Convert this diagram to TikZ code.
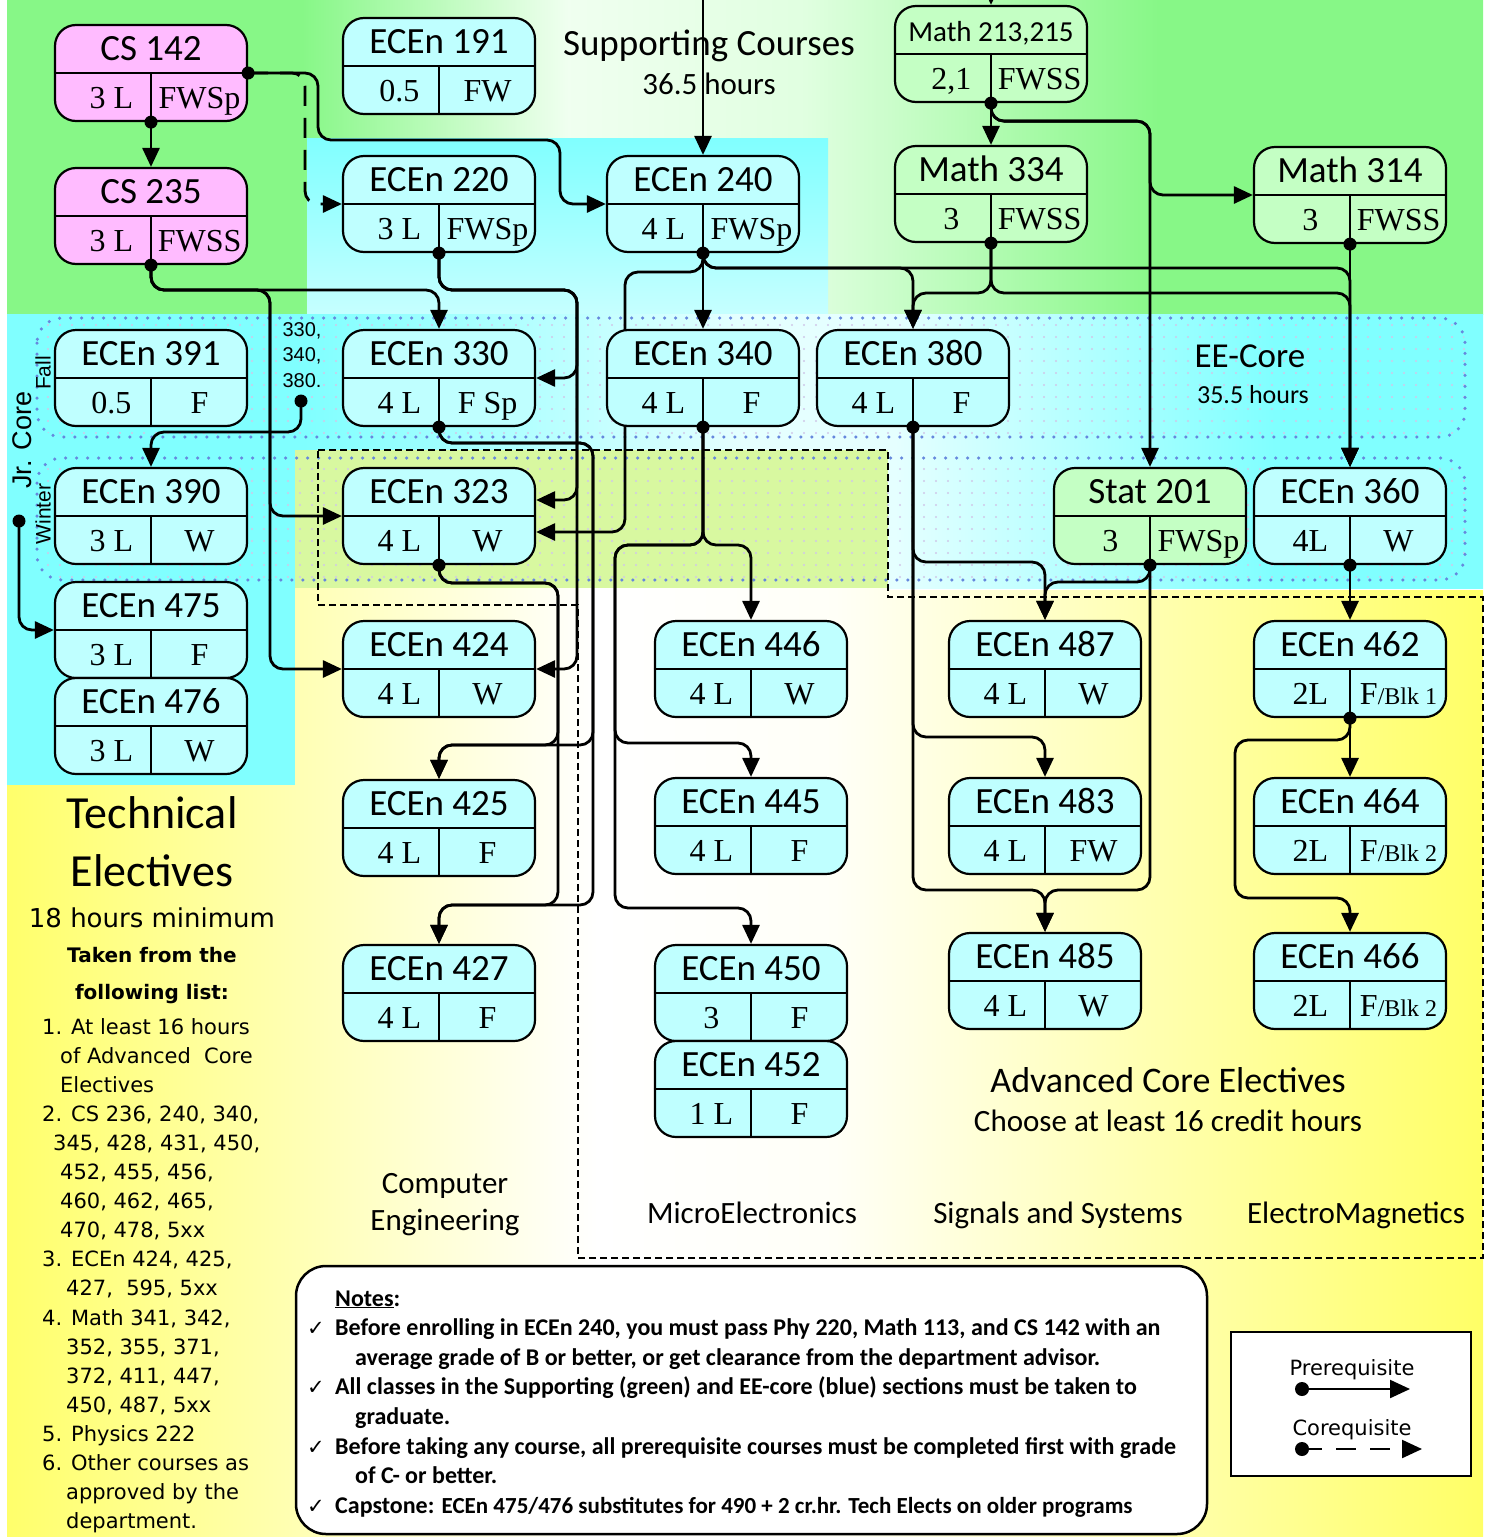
\documentclass[tikz,border=0pt]{standalone}
\usepackage{fontspec}
\setmainfont{Liberation Serif}
\newfontfamily\calfont{Carlito}
\newfontfamily\verdfont{DejaVu Sans}
\newfontfamily\arialfont{Liberation Sans}
\usetikzlibrary{calc,arrows.meta,patterns.meta}

\definecolor{boxcyan}{HTML}{BFFFFF}
\definecolor{boxpink}{HTML}{FFBBFF}
\definecolor{boxgreen}{HTML}{C4FFC4}
\definecolor{bgcyan}{HTML}{80FFFF}
\definecolor{bgmix}{HTML}{D8F8A0}
\definecolor{dotblue}{HTML}{6688DD}
\definecolor{patdot}{HTML}{D0C8E8}

\pgfdeclarehorizontalshading{greenband}{100bp}{rgb(0bp)=(0.53,0.97,0.53); rgb(35bp)=(0.53,0.97,0.53); rgb(44bp)=(0.94,1,0.94); rgb(52bp)=(0.88,1,0.88); rgb(64bp)=(0.53,0.97,0.53); rgb(100bp)=(0.53,0.97,0.53)}
\pgfdeclarehorizontalshading{cyanband}{100bp}{rgb(0bp)=(0.5,1,1); rgb(35bp)=(0.5,1,1); rgb(50bp)=(0.9,1,1); rgb(55bp)=(0.9,1,1); rgb(68bp)=(0.5,1,1); rgb(100bp)=(0.5,1,1)}
\pgfdeclarehorizontalshading{yellowband}{100bp}{rgb(0bp)=(1,1,0.42); rgb(25bp)=(1,1,0.42); rgb(45bp)=(1,1,1); rgb(53bp)=(1,1,0.97); rgb(75bp)=(1,1,0.4); rgb(100bp)=(1,1,0.4)}

\pgfdeclarelayer{back}
\pgfdeclarelayer{wires}
\pgfsetlayers{back,wires,main}

% one course: name, centre, title, credits, semesters, fill
\newcommand\course[6]{%
  \node[coursebox, fill=#6] (#1) at (#2) {};
  \draw[divider] (#1.west) -- (#1.east) (#1.center) -- (#1.south);
  \node[ctitle] (#1-t) at ($(#1.north)!.5!(#1.center)$) {#3};
  \node[ccell] (#1-l) at ($(#1.west)!.5!(#1.south)+(9,0)$) {#4};
  \node[ccell] (#1-r) at ($(#1.east)!.5!(#1.south)$) {#5};
}
\newcommand\blk[1]{{\fontsize{24}{24}\selectfont/Blk #1}}

\begin{document}
\begin{tikzpicture}[x=1pt, y=-1pt,
  coursebox/.style={draw, line width=2.2pt, rounded corners=21pt,
    minimum width=192pt, minimum height=96pt, inner sep=0pt},
  divider/.style={line width=2pt},
  ctitle/.style={font=\calfont\fontsize{37}{40}\selectfont,
    text height=24pt, text depth=0pt, inner sep=0pt},
  ccell/.style={font=\fontsize{32}{34}\selectfont,
    text height=21pt, text depth=0pt, inner sep=0pt},
  pre/.style={line width=2.8pt, rounded corners=13pt,
    -{Triangle[length=19pt,width=17pt]}},
  co/.style={pre, dash pattern=on 20pt off 12pt},
  lbl/.style={font=\calfont\fontsize{31}{36}\selectfont, inner sep=0pt, anchor=base},
  tlist/.style={font=\verdfont\fontsize{21}{24}\selectfont, inner sep=0pt, anchor=base west},
  note/.style={font=\calfont\bfseries\fontsize{24}{28}\selectfont, inner sep=0pt, anchor=base west}]
\useasboundingbox (0,0) rectangle (1488,1537);

% courses
\course{cs142}{151,73}{CS 142}{3 L}{FWSp}{boxpink}
\course{cs235}{151,216}{CS 235}{3 L}{FWSS}{boxpink}
\course{ec191}{439,66}{ECEn 191}{0.5}{FW}{boxcyan}
\course{ec220}{439,204}{ECEn 220}{3 L}{FWSp}{boxcyan}
\course{ec240}{703,204}{ECEn 240}{4 L}{FWSp}{boxcyan}
\course{m213}{991,54}{{\fontsize{29}{30}\selectfont Math 213,215}}{2,1}{FWSS}{boxgreen}
\course{m334}{991,194}{Math 334}{3}{FWSS}{boxgreen}
\course{m314}{1350,195}{Math 314}{3}{FWSS}{boxgreen}
\course{ec391}{151,378}{ECEn 391}{0.5}{F}{boxcyan}
\course{ec330}{439,378}{ECEn 330}{4 L}{F Sp}{boxcyan}
\course{ec340}{703,378}{ECEn 340}{4 L}{F}{boxcyan}
\course{ec380}{913,378}{ECEn 380}{4 L}{F}{boxcyan}
\course{ec390}{151,516}{ECEn 390}{3 L}{W}{boxcyan}
\course{ec323}{439,516}{ECEn 323}{4 L}{W}{boxcyan}
\course{st201}{1150,516}{Stat 201}{3}{FWSp}{boxgreen}
\course{ec360}{1350,516}{ECEn 360}{4L}{W}{boxcyan}
\course{ec475}{151,630}{ECEn 475}{3 L}{F}{boxcyan}
\course{ec476}{151,726}{ECEn 476}{3 L}{W}{boxcyan}
\course{ec424}{439,669}{ECEn 424}{4 L}{W}{boxcyan}
\course{ec446}{751,669}{ECEn 446}{4 L}{W}{boxcyan}
\course{ec487}{1045,669}{ECEn 487}{4 L}{W}{boxcyan}
\course{ec462}{1350,669}{ECEn 462}{2L}{F\blk{1}}{boxcyan}
\course{ec425}{439,828}{ECEn 425}{4 L}{F}{boxcyan}
\course{ec445}{751,826}{ECEn 445}{4 L}{F}{boxcyan}
\course{ec483}{1045,826}{ECEn 483}{4 L}{FW}{boxcyan}
\course{ec464}{1350,826}{ECEn 464}{2L}{F\blk{2}}{boxcyan}
\course{ec427}{439,993}{ECEn 427}{4 L}{F}{boxcyan}
\course{ec450}{751,993}{ECEn 450}{3}{F}{boxcyan}
\course{ec452}{751,1089}{ECEn 452}{1 L}{F}{boxcyan}
\course{ec485}{1045,981}{ECEn 485}{4 L}{W}{boxcyan}
\course{ec466}{1350,981}{ECEn 466}{2L}{F\blk{2}}{boxcyan}

\coordinate (in240) at (703,-5);
\coordinate (in213) at (991,-20);
\coordinate (jrdot) at (301,401);
\coordinate (jrcore) at (19,521);

% background areas
\begin{pgfonlayer}{back}
  \shade[shading=greenband] (7,0) rectangle (1483,314);
  \shade[top color=bgcyan, bottom color=bgcyan!45!white] (307,138) rectangle (828,314);
  \shade[shading=cyanband] (7,314) rectangle (1483,588);
  \fill[bgcyan] (7,314) rectangle (295,785);
  \shade[shading=yellowband] (295,450) -- (888,450) -- (888,590) -- (1483,590)
    -- (1483,1537) -- (7,1537) -- (7,785) -- (295,785) -- cycle;
  \fill[bgmix] (295,450) rectangle (888,588);
  \foreach \ya/\yb in {318/437, 458/580}
    \draw[dotblue, line width=3.5pt, line cap=round, dash pattern=on 0pt off 11pt,
      rounded corners=25pt, pattern={Dots[distance=12pt,radius=1.1pt]},
      pattern color=patdot] (37,\ya) rectangle (1465,\yb);
  \draw[line width=1.8pt, dash pattern=on 7pt off 4pt] (318,450) -- (888,450)
    -- (888,597) -- (1483,597) -- (1483,1258) -- (578,1258) -- (578,605)
    -- (318,605) -- cycle;

  \node[lbl, font=\calfont\fontsize{37}{40}\selectfont] (supp) at (709,55) {Supporting Courses};
  \node[lbl] (supph) at (709,94) {36.5 hours};
  \node[lbl, font=\calfont\fontsize{35}{40}\selectfont] (eecore) at (1250,367) {EE-Core};
  \node[lbl, font=\calfont\fontsize{26}{30}\selectfont] (eecoreh) at (1253,403) {35.5 hours};
  \node[rotate=90, font=\arialfont\fontsize{27}{30}\selectfont, inner sep=0pt] (jr) at (22,440) {Jr. Core};
  \node[rotate=90, font=\arialfont\fontsize{21}{24}\selectfont, inner sep=0pt] (fall) at (43,373) {Fall};
  \node[rotate=90, font=\arialfont\fontsize{21}{24}\selectfont, inner sep=0pt] (winter) at (43,514) {Winter};
  \node[font=\arialfont\fontsize{20}{25.5}\selectfont, align=center, inner sep=0pt,
    anchor=north] (pre3xx) at (302,322) {330,\\340,\\380.};
  \node[lbl] (ce1) at (445,1193) {Computer};
  \node[lbl] (ce2) at (445,1230) {Engineering};
  \node[lbl] (micro) at (752,1223) {MicroElectronics};
  \node[lbl] (sigs) at (1058,1223) {Signals and Systems};
  \node[lbl] (emag) at (1356,1223) {ElectroMagnetics};
  \node[lbl, font=\calfont\fontsize{36}{40}\selectfont] (ace) at (1168,1092) {Advanced Core Electives};
  \node[lbl] (ace2) at (1168,1131) {Choose at least 16 credit hours};
  \node[lbl, font=\calfont\fontsize{46}{50}\selectfont] (tech1) at (152,828) {Technical};
  \node[lbl, font=\calfont\fontsize{46}{50}\selectfont] (tech2) at (152,886) {Electives};
  \node[lbl, font=\verdfont\fontsize{26}{30}\selectfont] (tech3) at (152,927) {18 hours minimum};
  \node[lbl, font=\verdfont\bfseries\fontsize{20}{22}\selectfont] (tech4) at (152,962) {Taken from the};
  \node[lbl, font=\verdfont\bfseries\fontsize{20}{22}\selectfont] (tech5) at (152,999) {following list:};
  \foreach \dx/\txt [count=\i from 0] in {0/{1. At least 16 hours}, 18/{of Advanced\ \ Core},
      18/{Electives}, 0/{2. CS 236, 240, 340,}, 11/{345, 428, 431, 450,},
      18/{452, 455, 456,}, 18/{460, 462, 465,}, 18/{470, 478, 5xx},
      0/{3. ECEn 424, 425,}, 24/{427,\ \ 595, 5xx}, 0/{4. Math 341, 342,},
      24/{352, 355, 371,}, 24/{372, 411, 447,}, 24/{450, 487, 5xx},
      0/{5. Physics 222}, 0/{6. Other courses as}, 24/{approved by the},
      24/{department.}}
    \node[tlist] (te\i) at (42+\dx,1034+29.1*\i) {\txt};
\end{pgfonlayer}

% prerequisite lines
\begin{pgfonlayer}{wires}
  \draw[pre] (cs142.south) -- (cs235.north);
  \draw[pre] (cs142.east) -| (318,140) -| (560,204) -- (ec240.west);
  \draw[co] (cs142.east) -| (305,204) -- (ec220.west);
  \draw[pre] (in240) -- (ec240.north);
  \draw[pre] (in213) -- (m213.north);
  \draw[pre] (m213.south) -- (m334.north);
  \draw[pre] (m213.south) -- ++(0,18) -| (1150,195) -- (m314.west);
  \draw[pre] (m213.south) -- ++(0,18) -| (st201.north);
  \draw[pre] (ec220.south) |- (577,290) |- (ec330.east);
  \draw[pre] (ec220.south) |- (577,290) |- ([yshift=16pt]ec323.east);
  \draw[pre] (ec220.south) |- (577,290) |- (ec424.east);
  \draw[pre] (cs235.south) |- (439,290) -- (ec330.north);
  \draw[pre] (cs235.south) |- (270,290) |- (ec323.west);
  \draw[pre] (cs235.south) |- (270,290) |- (ec424.west);
  \draw[pre] (ec240.south) -- (ec340.north);
  \draw[pre] (ec240.south) |- (625,272) |- ([yshift=-16pt]ec323.east);
  \draw[pre] (ec240.south) |- (913,268) -- (ec380.north);
  \draw[pre] (ec240.south) |- (1350,268) -- (ec360.north);
  \draw[pre] (m334.south) |- (1350,293) -- (ec360.north);
  \draw[pre] (m334.south) |- (913,293) -- (ec380.north);
  \draw[pre] (m314.south) -- (ec360.north);
  \draw[pre] (ec330.south) |- (593,443) |- (439,745) -- (ec425.north);
  \draw[pre] (ec330.south) |- (593,443) |- (439,905) -- (ec427.north);
  \draw[pre] (ec323.south) |- (558,583) |- (439,745) -- (ec425.north);
  \draw[pre] (ec323.south) |- (558,583) |- (439,905) -- (ec427.north);
  \draw[pre] (ec340.south) |- (751,545) -- (ec446.north);
  \draw[pre] (ec340.south) |- (615,545) |- (751,743) -- (ec445.north);
  \draw[pre] (ec340.south) |- (615,545) |- (751,908) -- (ec450.north);
  \draw[pre] (ec380.south) |- (1045,562) -- (ec487.north);
  \draw[pre] (ec380.south) |- (1045,737) -- (ec483.north);
  \draw[pre] (ec380.south) |- (1045,890) -- (ec485.north);
  \draw[pre] (st201.south) |- (1045,582) -- (ec487.north);
  \draw[pre] (st201.south) |- (1045,890) -- (ec485.north);
  \draw[pre] (ec360.south) -- (ec462.north);
  \draw[pre] (ec462.south) -- (ec464.north);
  \draw[pre] (ec462.south) |- (1235,740) |- (1350,898) -- (ec466.north);
  \draw[pre] (jrdot) |- (151,432) -- (ec390.north);
  \draw[pre] (jrcore) |- (ec475.west);
\end{pgfonlayer}
\foreach \p in {cs142.south, cs142.east, cs235.south, ec220.south, ec240.south,
    m213.south, m334.south, m314.south, ec330.south, ec323.south, ec340.south,
    ec380.south, st201.south, ec360.south, ec462.south, jrdot, jrcore}
  \fill (\p) circle (6.5pt);

% notes
\node[draw, fill=white, line width=2.5pt, rounded corners=30pt, minimum width=911pt,
  minimum height=268pt] (notes) at (751.5,1400) {};
\foreach \dx/\txt [count=\i from 0] in {335/{\underline{Notes}:},
    335/{Before enrolling in ECEn 240, you must pass Phy 220, Math 113, and CS 142 with an},
    355/{average grade of B or better, or get clearance from the department advisor.},
    335/{All classes in the Supporting (green) and EE-core (blue) sections must be taken to},
    355/{graduate.},
    335/{Before taking any course, all prerequisite courses must be completed first with grade},
    355/{of C- or better.},
    335/{Capstone: {\fontsize{23}{26}\selectfont ECEn 475/476 substitutes for 490 + 2 cr.hr. Tech Elects on older programs}}}
  \node[note] (nt\i) at (\dx,1306+29.6*\i) {\txt};
\foreach \i in {1,3,5,7}
  \node[note, font=\verdfont\fontsize{21}{22}\selectfont] (ck\i) at (307,1306+29.6*\i) {✓};

% legend
\node[draw, fill=white, line width=2.5pt, minimum width=240pt, minimum height=144pt]
  (legend) at (1351,1404) {};
\node[lbl, font=\verdfont\fontsize{21}{24}\selectfont] (lgpre) at (1352,1375) {Prerequisite};
\node[lbl, font=\verdfont\fontsize{21}{24}\selectfont] (lgco) at (1352,1435) {Corequisite};
\coordinate (lpa) at (1302,1389);
\coordinate (lpb) at (1410,1389);
\coordinate (lca) at (1302,1449);
\coordinate (lcb) at (1422,1449);
\draw[line width=2.2pt, -{Triangle[length=20pt,width=18pt]}] (lpa) -- (lpb);
\draw[line width=2.2pt, dash pattern=on 20pt off 14pt, -{Triangle[length=20pt,width=18pt]}] (lca) -- (lcb);
\fill (lpa) circle (7pt) (lca) circle (7pt);
\end{tikzpicture}
\end{document}
